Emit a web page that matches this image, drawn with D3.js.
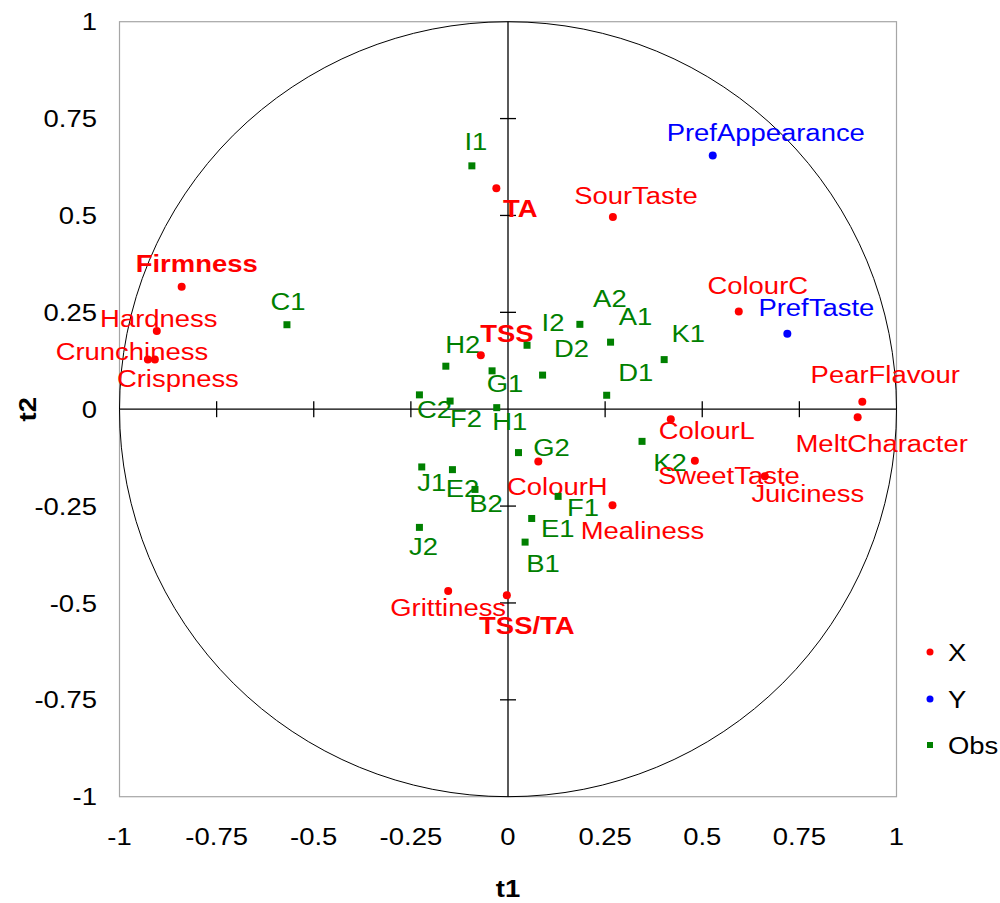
<!DOCTYPE html>
<html>
<head>
<meta charset="utf-8">
<script src="https://cdn.jsdelivr.net/npm/d3@7"></script>
<style>
  body { margin: 0; background: #fff; }
  svg { display: block; }
  text { font-family: "Liberation Sans", Arial, sans-serif; }
</style>
</head>
<body>
<svg id="chart" width="1000" height="903"></svg>
<script>
// ---- Data ----
const xNames = ["Firmness","Hardness","Crunchiness","Crispness","TA","SourTaste","TSS","ColourC","PearFlavour","MeltCharacter","ColourL","SweetTaste","Juiciness","ColourH","Mealiness","Grittiness","TSS/TA"];
const xT1 = [-0.840,-0.904,-0.927,-0.909,-0.030,0.270,-0.070,0.594,0.912,0.900,0.419,0.481,0.661,0.078,0.269,-0.154,-0.003];
const xT2 = [0.316,0.202,0.128,0.128,0.570,0.496,0.139,0.252,0.019,-0.021,-0.026,-0.133,-0.173,-0.135,-0.248,-0.469,-0.480];

const yNames = ["PrefAppearance","PrefTaste"];
const yT1 = [0.527,0.719];
const yT2 = [0.655,0.195];

const obsNames = ["C1","I1","A2","A1","I2","D2","D1","K1","H2","G1","C2","F2","H1","K2","G2","J1","E2","B2","F1","E1","J2","B1"];
const obsT1 = [-0.569,-0.093,0.185,0.264,0.049,0.089,0.254,0.402,-0.160,-0.041,-0.228,-0.149,-0.029,0.345,0.027,-0.222,-0.143,-0.085,0.129,0.061,-0.228,0.044];
const obsT2 = [0.218,0.628,0.219,0.173,0.165,0.088,0.036,0.128,0.111,0.099,0.037,0.021,0.004,-0.083,-0.112,-0.149,-0.156,-0.207,-0.225,-0.282,-0.305,-0.343];

const tickValues = [-1,-0.75,-0.5,-0.25,0,0.25,0.5,0.75,1];
const tickLabels = ["-1","-0.75","-0.5","-0.25","0","0.25","0.5","0.75","1"];
const legendLabels = ["X","Y","Obs"];
const boldLabels = ["Firmness","TA","TSS","TSS/TA"];

// ---- Layout (label placement offsets in px, centre of text relative to marker) ----
const labelOffset = {
  "Firmness":[15,-23],"Hardness":[2,-13],"Crunchiness":[-16,-8],"Crispness":[23,19],
  "TA":[24,20],"SourTaste":[23,-22],"TSS":[26,-22],"ColourC":[19,-26],
  "PearFlavour":[23,-27],"MeltCharacter":[24,26],"ColourL":[36,11],"SweetTaste":[34,15],
  "Juiciness":[43,17],"ColourH":[19,25],"Mealiness":[30,25],"Grittiness":[0,16],"TSS/TA":[20,30],
  "PrefAppearance":[53,-23],"PrefTaste":[29,-26],
  "C1":[1,-23],"I1":[4,-24],"A2":[30,-26],"A1":[25,-26],"I2":[26,-23],"D2":[29,-27],
  "D1":[29,-23],"K1":[24,-26],"H2":[17,-22],"G1":[13,13],"C2":[15,15],"F2":[16,17],
  "H1":[13,14],"K2":[28,21],"G2":[33,-5],"J1":[10,15],"E2":[10,19],"B2":[11,14],
  "F1":[25,11],"E1":[26,10],"J2":[4,19],"B1":[18,21]
};

const FS = 24.5, SX = 1.12;
const svg = d3.select("#chart");
const pLeft = 119.5, pTop = 21.7, pW = 777, pH = 775;
const x = d3.scaleLinear().domain([-1,1]).range([pLeft, pLeft+pW]);
const y = d3.scaleLinear().domain([-1,1]).range([pTop+pH, pTop]);

function txt(g, px, py, s, opts) {
  opts = opts || {};
  return g.append("text")
    .attr("transform", `translate(${px},${py}) scale(${SX},1)`)
    .attr("text-anchor", opts.anchor || "middle")
    .attr("dy", opts.dy || "0.35em")
    .attr("font-size", opts.size || FS)
    .attr("font-weight", opts.bold ? "bold" : "normal")
    .attr("fill", opts.color || "#000")
    .text(s);
}

// frame
svg.append("rect").attr("x", pLeft).attr("y", pTop).attr("width", pW).attr("height", pH)
  .attr("fill", "none").attr("stroke", "#a6a6a6").attr("stroke-width", 1.2);

// unit circle
svg.append("ellipse")
  .attr("cx", x(0)).attr("cy", y(0))
  .attr("rx", x(1)-x(0)).attr("ry", y(0)-y(1))
  .attr("fill", "none").attr("stroke", "#000").attr("stroke-width", 1);

// axes through origin with cross ticks
const axG = svg.append("g");
axG.append("line").attr("x1", x(-1)).attr("x2", x(1)).attr("y1", y(0)).attr("y2", y(0)).attr("stroke", "#000").attr("stroke-width", 1.3);
axG.append("line").attr("x1", x(0)).attr("x2", x(0)).attr("y1", y(-1)).attr("y2", y(1)).attr("stroke", "#000").attr("stroke-width", 1.3);
tickValues.filter(v => Math.abs(v) < 1 && v !== 0).forEach(v => {
  axG.append("line").attr("x1", x(v)).attr("x2", x(v)).attr("y1", y(0)-8).attr("y2", y(0)+8).attr("stroke", "#000").attr("stroke-width", 1.3);
  axG.append("line").attr("x1", x(0)-8).attr("x2", x(0)+8).attr("y1", y(v)).attr("y2", y(v)).attr("stroke", "#000").attr("stroke-width", 1.3);
});

// tick labels
const tg = svg.append("g");
tickValues.forEach((v, i) => {
  txt(tg, x(v), 836, tickLabels[i]);
  txt(tg, 97, y(v), tickLabels[i], {anchor: "end"});
});

// axis titles
txt(svg, x(0), 888, "t1", {bold: true});
svg.append("text")
  .attr("transform", `translate(27,${y(0)}) rotate(-90) scale(${SX},1)`)
  .attr("text-anchor", "middle").attr("dy", "0.35em")
  .attr("font-size", FS).attr("font-weight", "bold").text("t2");

// labels
const lg = svg.append("g");
function addLabel(name, vx, vy, color) {
  const o = labelOffset[name] || [0, -20];
  txt(lg, x(vx)+o[0], y(vy)+o[1], name, {color: color, bold: boldLabels.includes(name)});
}
obsNames.forEach((n, i) => addLabel(n, obsT1[i], obsT2[i], "#008000"));
xNames.forEach((n, i) => addLabel(n, xT1[i], xT2[i], "#ff0000"));
yNames.forEach((n, i) => addLabel(n, yT1[i], yT2[i], "#0000ff"));

// markers
const mg = svg.append("g");
obsNames.forEach((n, i) => {
  mg.append("rect").attr("x", x(obsT1[i])-3.5).attr("y", y(obsT2[i])-3.5)
    .attr("width", 7).attr("height", 7).attr("fill", "#008000");
});
xNames.forEach((n, i) => {
  mg.append("circle").attr("cx", x(xT1[i])).attr("cy", y(xT2[i])).attr("r", 4).attr("fill", "#ff0000");
});
yNames.forEach((n, i) => {
  mg.append("circle").attr("cx", x(yT1[i])).attr("cy", y(yT2[i])).attr("r", 4).attr("fill", "#0000ff");
});

// legend
const leg = svg.append("g");
const legColors = ["#ff0000","#0000ff","#008000"];
const legY = [652, 699, 745];
legendLabels.forEach((l, i) => {
  if (l === "Obs") {
    leg.append("rect").attr("x", 927).attr("y", legY[i]-3).attr("width", 6).attr("height", 6).attr("fill", legColors[i]);
  } else {
    leg.append("circle").attr("cx", 930).attr("cy", legY[i]).attr("r", 3.5).attr("fill", legColors[i]);
  }
  txt(leg, 948, legY[i], l, {anchor: "start"});
});
</script>
</body>
</html>
